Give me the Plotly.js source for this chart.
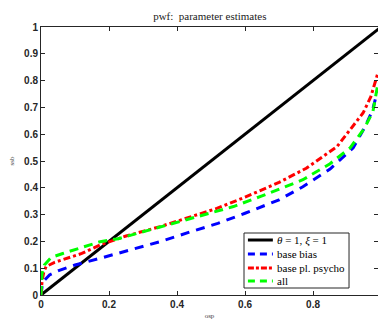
<!DOCTYPE html>
<html><head><meta charset="utf-8">
<script src="https://cdn.plot.ly/plotly-3.0.1.min.js"></script>
<style>html,body{margin:0;padding:0;background:#fff}#c{width:378px;height:320px}</style>
</head><body><div id="c"></div>
<script>
var refX = [0, 1];
var refY = [0, 1];
var biasX = [0, 0.003, 0.01, 0.025, 0.05, 0.1, 0.174, 0.25, 0.35, 0.45, 0.52, 0.6, 0.7, 0.77, 0.85, 0.918, 0.953, 0.975, 0.991];
var biasY = [0, 0.03, 0.055, 0.075, 0.09, 0.112, 0.137, 0.165, 0.199, 0.24, 0.267, 0.305, 0.355, 0.404, 0.47, 0.549, 0.628, 0.69, 0.77];
var psychoX = [0, 0.003, 0.008, 0.015, 0.04, 0.074, 0.12, 0.174, 0.25, 0.35, 0.45, 0.517, 0.6, 0.7, 0.78, 0.87, 0.947, 0.97, 0.991];
var psychoY = [0, 0.05, 0.085, 0.106, 0.122, 0.137, 0.155, 0.187, 0.22, 0.255, 0.295, 0.323, 0.365, 0.42, 0.473, 0.553, 0.679, 0.74, 0.83];
var allX = [0, 0.003, 0.01, 0.03, 0.064, 0.13, 0.174, 0.227, 0.3, 0.4, 0.497, 0.566, 0.65, 0.77, 0.85, 0.909, 0.95, 0.976, 0.991];
var allY = [0, 0.08, 0.112, 0.14, 0.155, 0.18, 0.199, 0.21, 0.236, 0.27, 0.305, 0.33, 0.37, 0.43, 0.49, 0.549, 0.62, 0.684, 0.79];
var seriesNames = ['<i>θ</i> = 1, <i>ξ</i> = 1', 'base bias', 'base pl. psycho', 'all'];
var yTicks = [0, 0.1, 0.2, 0.3, 0.4, 0.5, 0.6, 0.7, 0.8, 0.9, 1];
var yTickText = ['0', '0.1', '0.2', '0.3', '0.4', '0.5', '0.6', '0.7', '0.8', '0.9', '1'];
var xTicks = [0, 0.2, 0.4, 0.6, 0.8];
var xTickText = ['0', '0.2', '0.4', '0.6', '0.8'];

var lineStyles = [
  {color: '#000', width: 3},
  {color: '#0000ff', width: 3, dash: '9px,7px'},
  {color: '#ff0000', width: 3, dash: '7px,3px,3px,3px'},
  {color: '#00ff00', width: 3, dash: '9px,6px'}
];
var xs = [refX, biasX, psychoX, allX];
var ys = [refY, biasY, psychoY, allY];
var traces = xs.map(function (x, i) {
  return {x: x, y: ys[i], name: seriesNames[i], mode: 'lines', line: lineStyles[i], showlegend: false};
});

// manual compact legend (paper coordinates)
var legBox = {x0: 0.6024, x1: 0.914, y0: 0.0261, y1: 0.2313};
var legRows = [0.2052, 0.153, 0.1007, 0.0522];
var shapes = [{type: 'rect', xref: 'paper', yref: 'paper', x0: legBox.x0, x1: legBox.x1, y0: legBox.y0, y1: legBox.y1,
  line: {color: '#262626', width: 1}, fillcolor: '#fff', layer: 'above'}];
var annotations = [];
legRows.forEach(function (yy, i) {
  shapes.push({type: 'line', xref: 'paper', yref: 'paper', x0: 0.614, x1: 0.688, y0: yy, y1: yy,
    line: {color: lineStyles[i].color, width: 3, dash: i === 0 ? 'solid' : (i === 2 ? '6px,2px,3px,2px' : '7px,5px')}, layer: 'above'});
  annotations.push({xref: 'paper', yref: 'paper', x: 0.694, y: yy, xanchor: 'left', yanchor: 'middle', showarrow: false,
    text: seriesNames[i], font: {family: 'Liberation Serif, Times New Roman, serif', size: 11, color: '#000'}});
});

var axisCommon = {
  showgrid: false, zeroline: false, showline: true, linecolor: '#262626', linewidth: 1,
  mirror: 'ticks', ticks: 'inside', ticklen: 4, tickcolor: '#262626',
  tickfont: {family: 'Liberation Sans, Arial, sans-serif', size: 10, color: '#262626', weight: 'bold'}
};
var layout = {
  width: 378, height: 320,
  margin: {l: 41, r: 0, t: 27, b: 25},
  paper_bgcolor: '#fff', plot_bgcolor: '#fff',
  showlegend: false,
  title: {text: 'pwf:  parameter estimates', font: {family: 'Liberation Serif, Times New Roman, serif', size: 11, color: '#222'}, x: 0.555, xanchor: 'center', y: 0.948, yanchor: 'middle'},
  xaxis: Object.assign({}, axisCommon, {range: [0, 0.991], tickvals: xTicks, ticktext: xTickText,
    title: {text: 'osp', font: {family: 'Liberation Serif, serif', size: 7, color: '#444'}, standoff: 4}}),
  yaxis: Object.assign({}, axisCommon, {range: [0, 1], tickvals: yTicks, ticktext: yTickText,
    title: {text: 'ssb', font: {family: 'Liberation Serif, serif', size: 7, color: '#444'}, standoff: 8}}),
  shapes: shapes,
  annotations: annotations
};
Plotly.newPlot('c', traces, layout, {displayModeBar: false, staticPlot: true});
</script>
</body></html>
